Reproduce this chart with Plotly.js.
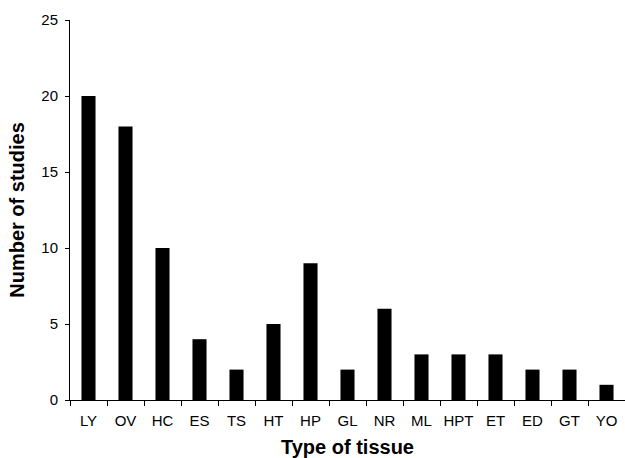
<!DOCTYPE html>
<html>
<head>
<meta charset="utf-8">
<script src="https://cdn.plot.ly/plotly-3.0.1.min.js"></script>
<style>html,body{margin:0;padding:0;background:#fff;}#chart{width:625px;height:458px;}</style>
</head>
<body>
<div id="chart"></div>
<script>
var categories = ["LY","OV","HC","ES","TS","HT","HP","GL","NR","ML","HPT","ET","ED","GT","YO"];
var studies = [20,18,10,4,2,5,9,2,6,3,3,3,2,2,1];
var yTicks = [0,5,10,15,20,25];

var trace = {
  type: "bar",
  x: categories,
  y: studies,
  marker: {color: "#000000", line: {width: 0}},
  hoverinfo: "x+y"
};

var FONT = "Liberation Sans, Arial, sans-serif";
var layout = {
  width: 625,
  height: 458,
  margin: {l: 70, r: 0, t: 20, b: 58, pad: 0},
  paper_bgcolor: "#ffffff",
  plot_bgcolor: "#ffffff",
  bargap: 0.62,
  showlegend: false,
  font: {family: FONT, color: "#000", size: 15},
  xaxis: {
    type: "category",
    showline: true, linecolor: "#000", linewidth: 1,
    ticks: "outside", ticklen: 5, tickcolor: "#000", tickwidth: 1,
    tickson: "boundaries",
    tickangle: 0,
    ticklabelstandoff: 7,
    showgrid: false, zeroline: false,
    tickfont: {size: 15, color: "#000", family: FONT},
    title: {text: "Type of tissue", font: {size: 20, color: "#000", family: FONT, weight: "bold"}, standoff: 12},
    automargin: false
  },
  yaxis: {
    range: [0, 25],
    tickvals: yTicks,
    showline: true, linecolor: "#000", linewidth: 1,
    ticks: "outside", ticklen: 4, tickcolor: "#000", tickwidth: 1,
    ticklabelstandoff: 4,
    showgrid: false, zeroline: false,
    tickfont: {size: 15, color: "#000", family: FONT},
    title: {text: "Number of studies", font: {size: 20, color: "#000", family: FONT, weight: "bold"}, standoff: 11},
    automargin: false
  }
};

Plotly.newPlot("chart", [trace], layout, {displayModeBar: false, staticPlot: true});
</script>
</body>
</html>
